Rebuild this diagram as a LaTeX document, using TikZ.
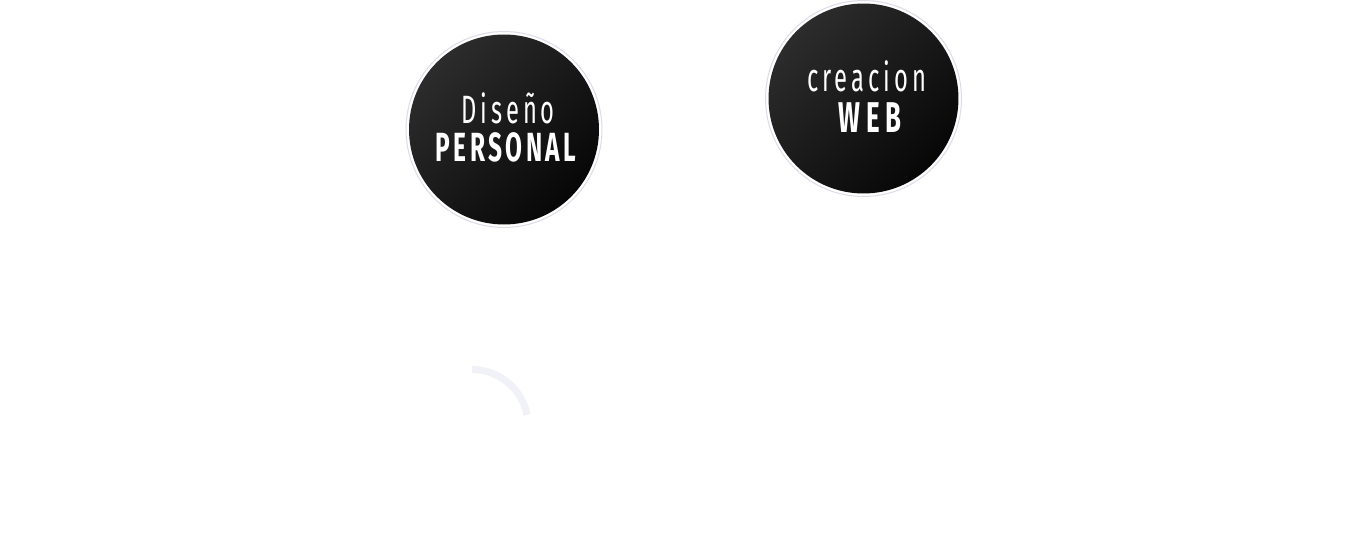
\documentclass[tikz,border=0pt]{standalone}
\usepackage{fontspec}
\newfontfamily\thinfont[FakeStretch=0.6]{Fira Sans}
\newfontfamily\boldfont[FakeStretch=0.6]{Fira Sans Bold}
\definecolor{ringgrey}{HTML}{DCDCE8}
\definecolor{spin}{HTML}{F1F1F8}
\definecolor{discA}{HTML}{2C2C2C}
\definecolor{discB}{HTML}{070707}
\tikzset{
  ring/.style={circle,draw=ringgrey,line width=0.02cm,fill=white,minimum size=3.92cm,inner sep=0pt},
  disc/.style={circle,top color=discA,bottom color=discB,shading angle=45,minimum size=3.8cm,inner sep=0pt},
  label/.style={text=white,anchor=base,inner sep=0pt}
}
\begin{document}
\begin{tikzpicture}[x=0.02cm,y=-0.02cm]
  \useasboundingbox[fill=white] (0,0) rectangle (1366,547);
  \node[ring] (dpring) at (504,129.5) {};
  \node[disc] (dp) at (dpring) {};
  \node[ring] (cwring) at (863.5,98.5) {};
  \node[disc] (cw) at (cwring) {};
  \node[label,font=\thinfont\addfontfeature{LetterSpace=10}\fontsize{22.5}{25}\selectfont] (diseno) at (508,123.3) {Diseño};
  \node[label,font=\boldfont\addfontfeature{LetterSpace=8.5}\fontsize{23.2}{26}\selectfont] (personal) at (506,162) {PERSONAL};
  \node[label,font=\thinfont\addfontfeature{LetterSpace=10}\fontsize{22.5}{25}\selectfont] (creacion) at (866.5,91.5) {creacion};
  \node[label,font=\boldfont\addfontfeature{LetterSpace=13}\fontsize{24.5}{28}\selectfont] (web) at (870,133) {WEB};
  % spinner
  \coordinate (spinc) at (472,425.5);
  \draw[spin,line width=0.14cm] (472,369.5) arc[start angle=-90,end angle=-11,radius=56];
\end{tikzpicture}
\end{document}
